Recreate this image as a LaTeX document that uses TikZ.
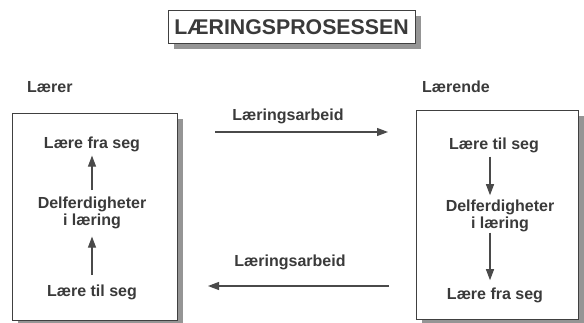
\documentclass[tikz,border=0pt]{standalone}
\usepackage{fontspec}
\setmainfont{Liberation Sans}
\usetikzlibrary{arrows.meta}
\definecolor{ink}{HTML}{3A3A3A}
\definecolor{lineink}{HTML}{4A4A4A}
\definecolor{shade}{HTML}{959595}
\begin{document}
\begin{tikzpicture}[x=1pt,y=-1pt,
  lbl/.style={font=\bfseries\fontsize{16}{17}\selectfont, text=ink, inner sep=4pt, align=center},
  hdr/.style={font=\bfseries\fontsize{16}{17}\selectfont, text=ink, inner sep=0pt, anchor=base west},
  arr/.style={draw=lineink, line width=1.1pt, -{Triangle[length=11pt,width=8pt]}},
  boxframe/.style={draw=black!75, line width=0.8pt, fill=white},
  shadowfill/.style={fill=shade, draw=none}]
\useasboundingbox (0,0) rectangle (584,322);
\fill[white] (0,0) rectangle (584,322);

% title
\fill[shadowfill] (174,16) rectangle (421,49);
\draw[boxframe] (168,10) rectangle (415,43);
\node[font=\bfseries\fontsize{21.3}{24}\selectfont, text=ink, inner sep=0pt] (title) at (291.5,27) {LÆRINGSPROSESSEN};

% side headers
\node[hdr] (laerer) at (27,92.5) {Lærer};
\node[hdr] (laerende) at (422,92.5) {Lærende};

% boxes
\fill[shadowfill] (18,119) rectangle (183,326);
\draw[boxframe] (12,113) rectangle (177,320);
\fill[shadowfill] (422,116) rectangle (584,325);
\draw[boxframe] (416,110) rectangle (578,319);

% left box content
\node[lbl, anchor=base] (L1) at (92,148) {Lære fra seg};
\node[lbl, anchor=base] (L2) at (92,225) {Delferdigheter\\i læring};
\node[lbl, anchor=base] (L3) at (92,296) {Lære til seg};
\draw[arr] ([yshift=2pt]L2.north) -- (L1.south);
\draw[arr, shorten >=4pt] ([yshift=5pt]L3.north) -- (L2.south);

% right box content
\node[lbl, anchor=base] (R1) at (494,149) {Lære til seg};
\node[lbl, anchor=base] (R2) at (500,228) {Delferdigheter\\i læring};
\node[lbl, anchor=base] (R3) at (495,299) {Lære fra seg};
\draw[arr] ([xshift=-4pt]R1.south) -- ([xshift=-4pt]R1.south |- R2.north);
\draw[arr, shorten >=3pt] ([xshift=-4pt,yshift=3pt]R1.south |- R2.south) -- ([xshift=-4pt]R1.south |- R3.north);

% connectors between boxes
\node[font=\bfseries\fontsize{16}{17}\selectfont, text=ink, inner sep=0pt] (work1) at (288,116) {Læringsarbeid};
\node[font=\bfseries\fontsize{16}{17}\selectfont, text=ink, inner sep=0pt] (work2) at (290,262) {Læringsarbeid};
\coordinate (a1s) at (215,132);
\coordinate (a1e) at (388,132);
\coordinate (a2s) at (389,286);
\coordinate (a2e) at (208,286);
\draw[arr] (a1s) -- (a1e);
\draw[arr] (a2s) -- (a2e);
\end{tikzpicture}
\end{document}
